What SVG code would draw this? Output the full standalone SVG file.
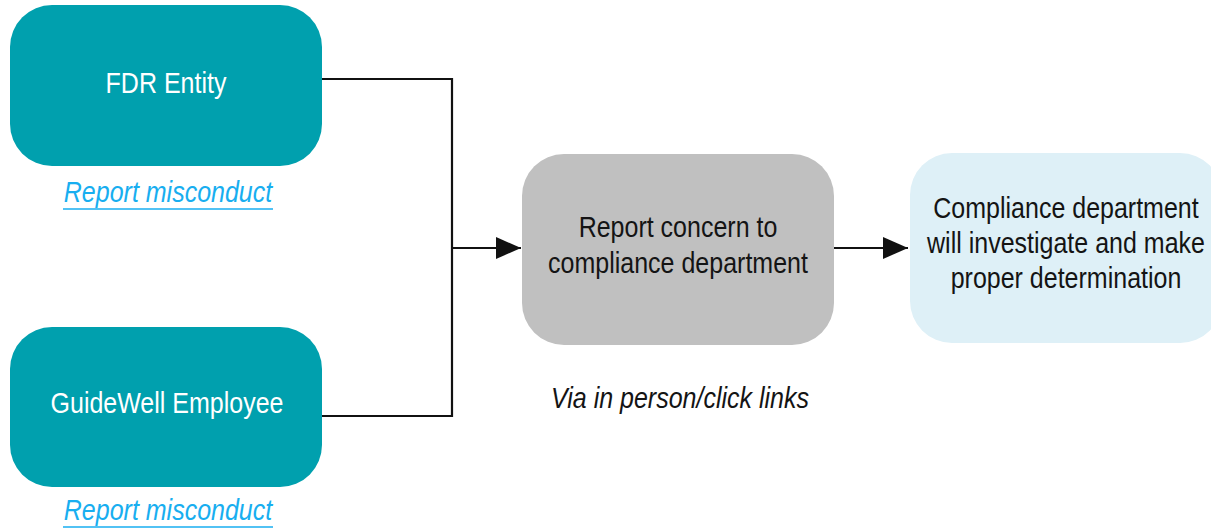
<svg xmlns="http://www.w3.org/2000/svg" width="1211" height="529" viewBox="0 0 1211 529">
  <style>
    .t { font-family: "Liberation Sans", Arial, sans-serif; font-size: 25px; text-anchor: middle; }
    .w { fill: #ffffff; }
    .d { fill: #141414; }
    .lk { fill: #18aef0; font-style: italic; }
    .it { fill: #141414; font-style: italic; }
    .conn { fill: none; stroke: #111111; stroke-width: 2.2; }
    .ul { stroke: #18aef0; stroke-width: 1.6; }
  </style>
  <defs>
    <marker id="arr" markerUnits="userSpaceOnUse" markerWidth="26" markerHeight="22" refX="25" refY="11" orient="auto">
      <path d="M0,0 L25,11 L0,22 z" fill="#111111"/>
    </marker>
  </defs>
  <rect width="1211" height="529" fill="#ffffff"/>

  <g id="connectors">
    <path class="conn" d="M322,79 H452 V416 H322"/>
    <path class="conn" d="M452,248 H521" marker-end="url(#arr)"/>
    <path class="conn" d="M834,248 H908" marker-end="url(#arr)"/>
  </g>

  <g id="fdr-entity">
    <rect x="10" y="5" width="312" height="161" rx="42" ry="42" fill="#00a0ae"/>
    <text class="t w" transform="translate(166,93) scale(1,1.18)">FDR Entity</text>
  </g>
  <g id="fdr-link">
    <text class="t lk" transform="translate(168,202) scale(1,1.15)">Report misconduct</text>
    <line class="ul" x1="63" y1="209" x2="273" y2="209"/>
  </g>

  <g id="guidewell-employee">
    <rect x="10" y="327" width="312" height="160" rx="42" ry="42" fill="#00a0ae"/>
    <text class="t w" transform="translate(167,413) scale(1,1.18)">GuideWell Employee</text>
  </g>
  <g id="guidewell-link">
    <text class="t lk" transform="translate(168,520) scale(1,1.15)">Report misconduct</text>
    <line class="ul" x1="63" y1="527" x2="273" y2="527"/>
  </g>

  <g id="report-concern">
    <rect x="522" y="154" width="312" height="191" rx="42" ry="42" fill="#c0c0c0"/>
    <text class="t d" transform="translate(678,237) scale(1,1.15)">Report concern to</text>
    <text class="t d" transform="translate(678,273) scale(1,1.15)">compliance department</text>
  </g>

  <g id="via-label">
    <text class="t it" transform="translate(680,408) scale(1,1.15)">Via in person/click links</text>
  </g>

  <g id="investigate">
    <rect x="910" y="153" width="312" height="190" rx="42" ry="42" fill="#def0f7"/>
    <text class="t d" transform="translate(1066,218) scale(1,1.15)">Compliance department</text>
    <text class="t d" transform="translate(1066,253) scale(1,1.15)">will investigate and make</text>
    <text class="t d" transform="translate(1066,288) scale(1,1.15)">proper determination</text>
  </g>
</svg>
